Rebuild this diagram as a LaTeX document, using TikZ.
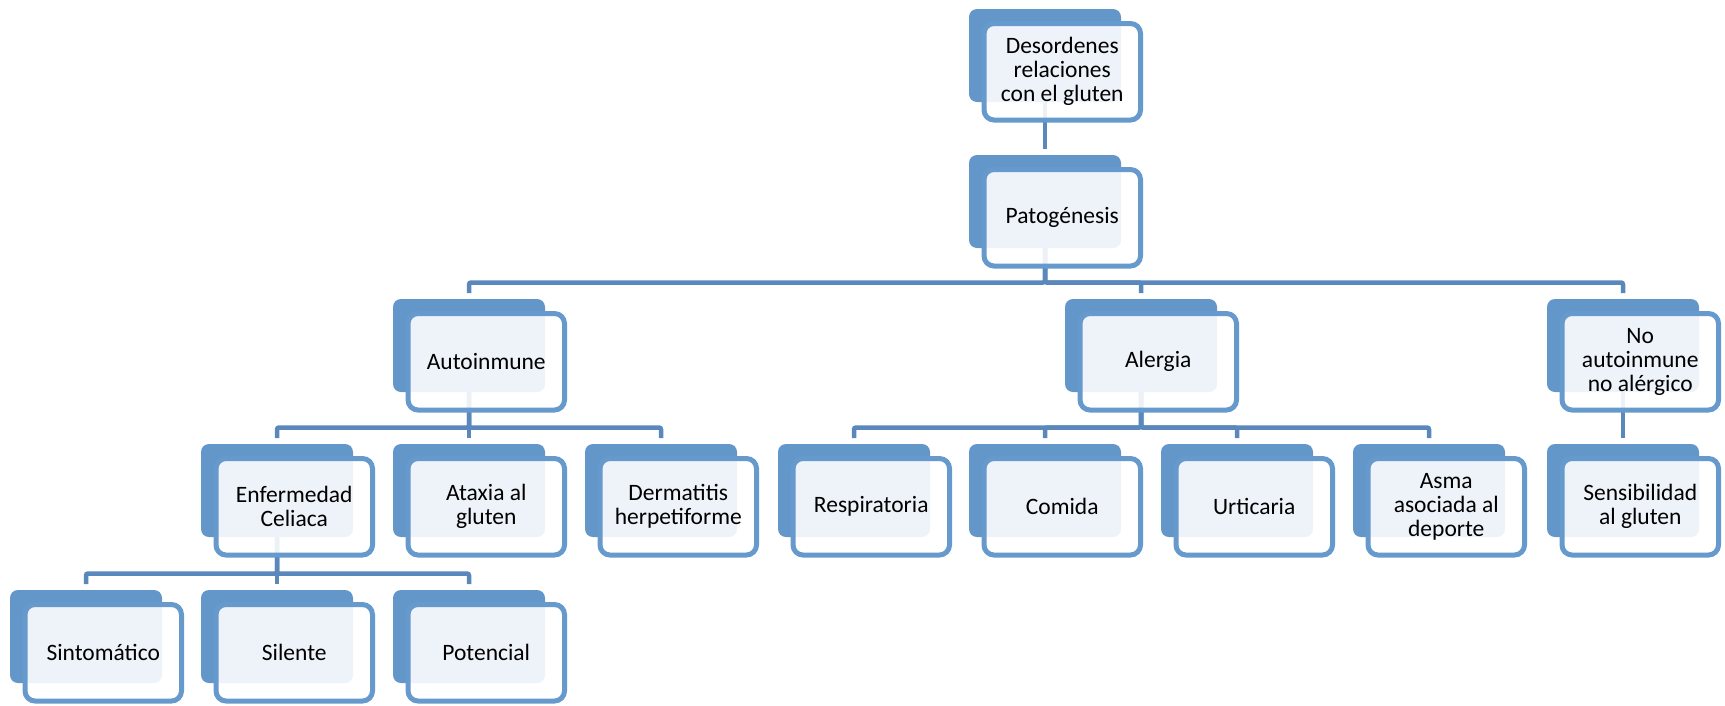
\documentclass[tikz,border=0pt]{standalone}
\usepackage{fontspec}
\setmainfont{Carlito}
\pgfdeclarelayer{bg}
\pgfsetlayers{bg,main}
\definecolor{backblue}{HTML}{6396C9}
\definecolor{frameblue}{HTML}{6699CC}
\definecolor{lineblue}{HTML}{5A88BC}
\tikzset{
  backbox/.style={anchor=north west, minimum width=152pt, minimum height=93pt,
    inner sep=0pt, outer sep=0pt, rounded corners=8pt, fill=backblue},
  frontbox/.style={anchor=north west, minimum width=156.5pt, minimum height=96.5pt,
    inner sep=2pt, outer sep=0pt, rounded corners=10pt, draw=frameblue, line width=5pt,
    fill=white, fill opacity=0.89, text opacity=1, align=center,
    font=\fontsize{23.5}{24}\selectfont},
  conn/.style={draw=lineblue, line width=4.5pt, rounded corners=2pt},
}
\newcommand\gbox[4]{%
  \node[backbox] (#1) at (#2,#3) {};
  \node[frontbox] (#1f) at ([xshift=15pt,yshift=-14.5pt]#1.north west) {#4};
}
\begin{document}
\begin{tikzpicture}[x=1pt,y=-1pt]
\useasboundingbox (0,0) rectangle (1725,705);
\gbox{root}{969}{9}{Desordenes\\relaciones\\con el gluten}
\gbox{pat}{969}{155}{Patogénesis}
\gbox{auto}{393}{299}{Autoinmune}
\gbox{aler}{1065}{299}{Alergia}
\gbox{noai}{1547}{299}{No\\autoinmune\\no alérgico}
\gbox{enf}{201}{444}{Enfermedad\\Celiaca}
\gbox{atax}{393}{444}{Ataxia al\\gluten}
\gbox{derm}{585}{444}{Dermatitis\\herpetiforme}
\gbox{resp}{778}{444}{Respiratoria}
\gbox{comi}{969}{444}{Comida}
\gbox{urti}{1161}{444}{Urticaria}
\gbox{asma}{1353}{444}{Asma\\asociada al\\deporte}
\gbox{sens}{1547}{444}{Sensibilidad\\al gluten}
\gbox{sint}{10}{590}{Sintomático}
\gbox{sile}{201}{590}{Silente}
\gbox{pote}{393}{590}{Potencial}
\begin{pgfonlayer}{bg}
\draw[conn] (root.south) -- ([yshift=6pt]pat.north);
\foreach \p/\c in {pat/auto, pat/aler, pat/noai,
                   auto/enf, auto/atax, auto/derm,
                   aler/resp, aler/comi, aler/urti, aler/asma,
                   noai/sens,
                   enf/sint, enf/sile, enf/pote}{
  \draw[conn] (\p.south) |- ([yshift=16.5pt]\c.north) -- ([yshift=6pt]\c.north);
}
\end{pgfonlayer}
\end{tikzpicture}
\end{document}
